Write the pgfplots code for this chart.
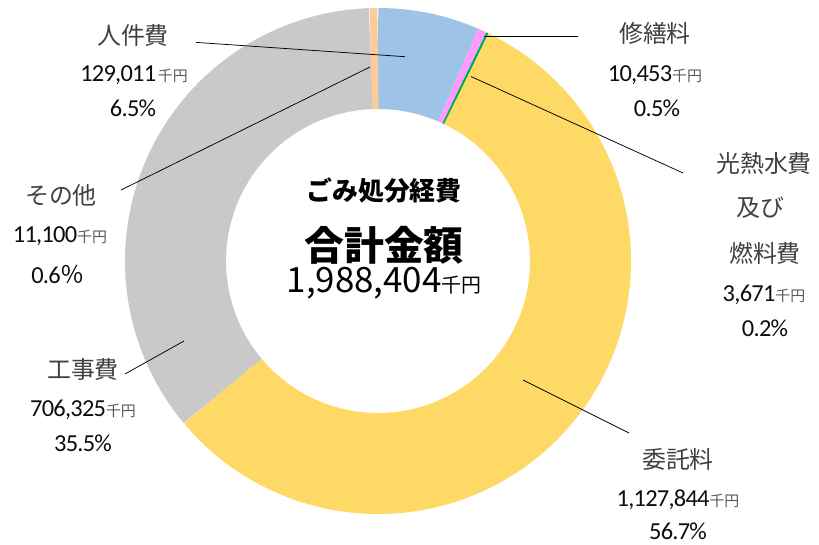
\documentclass[border=0pt]{standalone}
\usepackage{pgfplots}
\pgfplotsset{compat=1.18}
\usepackage{pgfplotstable}
\usepackage{fontspec}
\setmainfont{Carlito}[LetterSpace=-3]
\newfontfamily\jp{Noto Sans CJK JP}

\definecolor{cBlue}{HTML}{9DC3E6}
\definecolor{cPink}{HTML}{FF9BFF}
\definecolor{cGreen}{HTML}{00B050}
\definecolor{cYellow}{HTML}{FFD966}
\definecolor{cGray}{HTML}{C9C9C9}
\definecolor{cPeach}{HTML}{FBCB99}
\definecolor{txtLab}{HTML}{404040}
\definecolor{txtNum}{HTML}{0D0D0D}
\definecolor{txtUnit}{HTML}{595959}

% cost items (thousand yen), clockwise from 12 o'clock
\pgfplotstableread{
item value
jinkenhi 129011
shuzenryo 10453
kounetsu 3671
itakuryo 1127844
koujihi 706325
sonota 11100
}\costs

\pgfplotstablegetelem{0}{value}\of\costs\edef\vA{\pgfplotsretval}
\pgfplotstablegetelem{1}{value}\of\costs\edef\vB{\pgfplotsretval}
\pgfplotstablegetelem{2}{value}\of\costs\edef\vC{\pgfplotsretval}
\pgfplotstablegetelem{3}{value}\of\costs\edef\vD{\pgfplotsretval}
\pgfplotstablegetelem{4}{value}\of\costs\edef\vE{\pgfplotsretval}
\pgfplotstablegetelem{5}{value}\of\costs\edef\vF{\pgfplotsretval}
\edef\total{\fpeval{\vA+\vB+\vC+\vD+\vE+\vF}}
\edef\aA{90}
\edef\aB{\fpeval{90-360*(\vA)/\total}}
\edef\aC{\fpeval{90-360*(\vA+\vB)/\total}}
\edef\aD{\fpeval{90-360*(\vA+\vB+\vC)/\total}}
\edef\aE{\fpeval{90-360*(\vA+\vB+\vC+\vD)/\total}}
\edef\aF{\fpeval{90-360*(\vA+\vB+\vC+\vD+\vE)/\total}}
\edef\aG{-270}

\newcommand\lab[1]{{\jp\fontsize{24}{24}\selectfont\color{txtLab}#1}}
\newcommand\unit{{\jp\fontsize{15}{15}\selectfont\color{txtUnit}千円}}
\newcommand\num[1]{{\fontsize{24.5}{24.5}\selectfont\color{txtNum}#1}}

\begin{document}
\begin{tikzpicture}
\begin{axis}[
  scale only axis, width=819bp, height=545bp,
  xmin=0, xmax=819, ymin=0, ymax=545,
  hide axis, clip=false,
]
% donut ring: centre (378,284), mid radius 202.5, ring width 101
\addplot[draw=cBlue,   line width=101bp, line join=round, domain=\aB:\aA, samples=60] ({378+202.5*cos(x)},{284+202.5*sin(x)});
\addplot[draw=cPink,   line width=101bp, line join=round, domain=\aC:\aB, samples=10] ({378+202.5*cos(x)},{284+202.5*sin(x)});
\addplot[draw=cGreen,  line width=101bp, line join=round, domain=\aD:\aC, samples=6]  ({378+202.5*cos(x)},{284+202.5*sin(x)});
\addplot[draw=cYellow, line width=101bp, line join=round, domain=\aE:\aD, samples=300] ({378+202.5*cos(x)},{284+202.5*sin(x)});
\addplot[draw=cGray,   line width=101bp, line join=round, domain=\aF:\aE, samples=200] ({378+202.5*cos(x)},{284+202.5*sin(x)});
\addplot[draw=cPeach,  line width=101bp, line join=round, domain=\aG:\aF, samples=10] ({378+202.5*cos(x)},{284+202.5*sin(x)});

% leader lines
\addplot[black, line width=0.75bp] coordinates {(196,502.6) (405,488.3)};
\addplot[black, line width=0.75bp] coordinates {(121,355) (370,478)};
\addplot[black, line width=0.75bp] coordinates {(125,171) (184,204)};
\addplot[black, line width=0.75bp] coordinates {(484,509) (578,509)};
\addplot[black, line width=0.75bp] coordinates {(471,468.5) (683,372)};
\addplot[black, line width=0.75bp] coordinates {(523,165) (629,112)};

% labels
\node at (axis cs:133,510) {\lab{人件費}};
\node at (axis cs:134,470) {\num{129,011}\,\unit};
\node at (axis cs:133,437) {\num{6.5\%}};

\node at (axis cs:655,512) {\lab{修繕料}};
\node at (axis cs:655,470) {\num{10,453}\unit};
\node at (axis cs:657,437) {\num{0.5\%}};

\node at (axis cs:764,382) {\lab{光熱水費}};
\node at (axis cs:760,337) {\lab{及び}};
\node at (axis cs:765,292) {\lab{燃料費}};
\node at (axis cs:764,250) {\num{3,671}\unit};
\node at (axis cs:765,217) {\num{0.2\%}};

\node at (axis cs:61,350) {\lab{その他}};
\node at (axis cs:60,309) {\num{11,100}\unit};
\node at (axis cs:58,270) {\num{0.6}{\jp\fontsize{24}{24}\selectfont\color{txtNum}％}};

\node at (axis cs:83,176) {\lab{工事費}};
\node at (axis cs:83,135) {\num{706,325}\unit};
\node at (axis cs:83,102) {\num{35.5\%}};

\node at (axis cs:678,86) {\lab{委託料}};
\node at (axis cs:678,45) {\num{1,127,844}\unit};
\node at (axis cs:678,14) {\num{56.7\%}};

% centre text
\node at (axis cs:384,355) {\jp\bfseries\fontsize{26}{26}\selectfont ごみ処分経費};
\node at (axis cs:384,300) {\jp\bfseries\fontsize{40}{40}\selectfont 合計金額};
\node at (axis cs:384,262) {\jp\fontsize{35}{35}\selectfont 1,988,404\fontsize{20}{20}\selectfont 千円};
\end{axis}
\pgfresetboundingbox
\path (current axis.south west) rectangle (current axis.north east);
\end{tikzpicture}
\end{document}
